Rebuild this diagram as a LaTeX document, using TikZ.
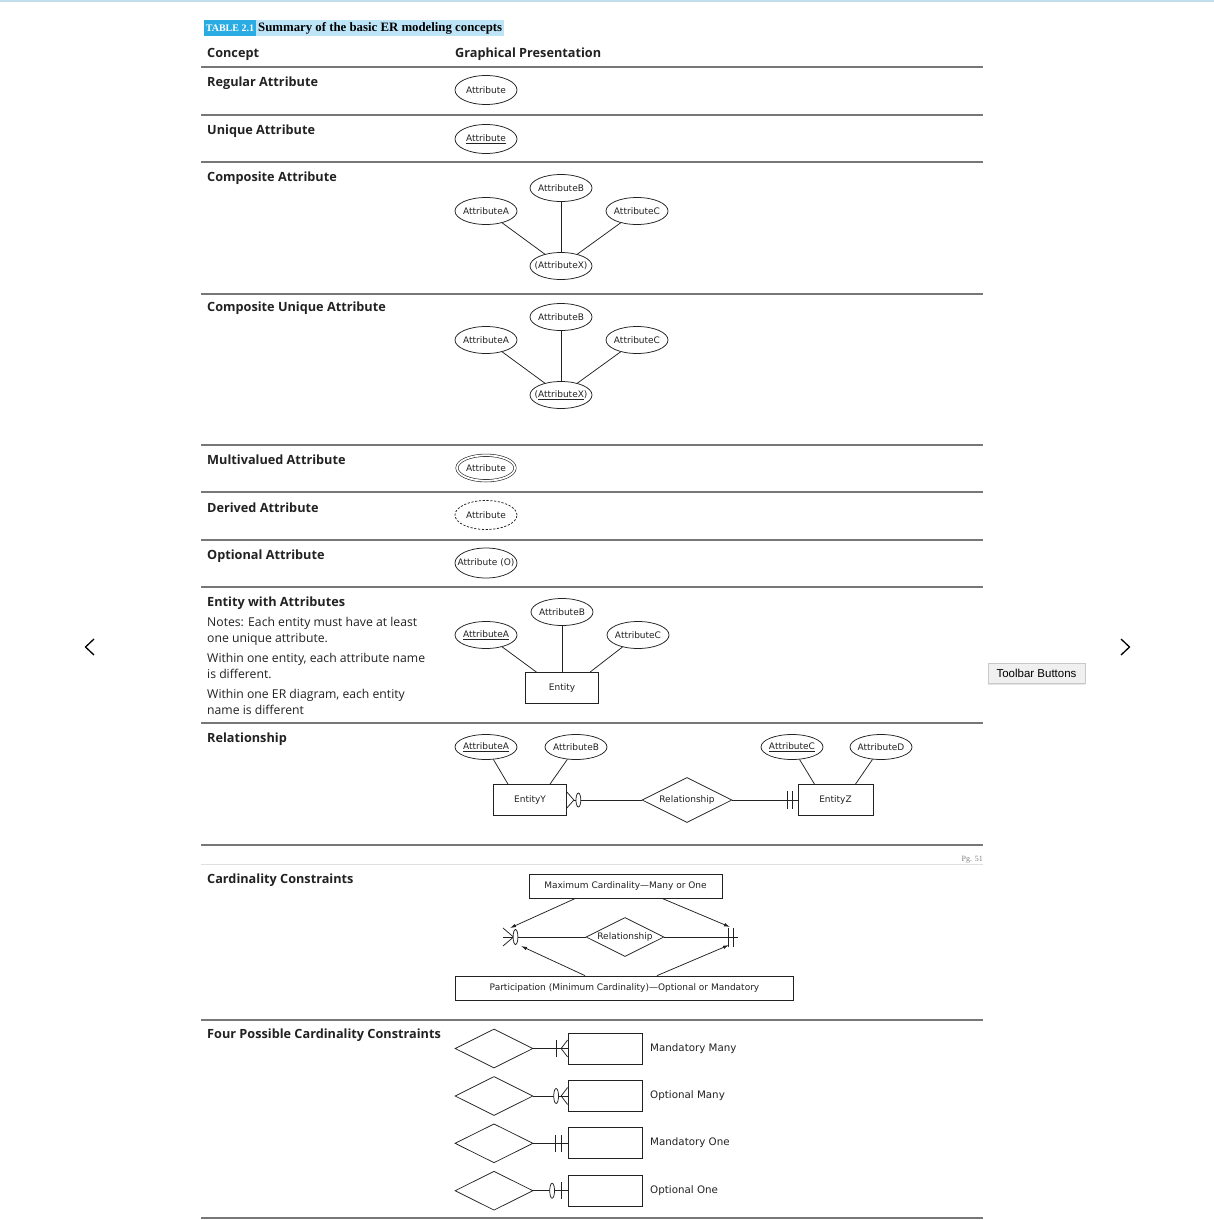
\documentclass[tikz,border=0pt]{standalone}
\usepackage{fontspec}
\setmainfont{Open Sans}
\newfontfamily\dia[Ligatures=TeX]{DejaVu Sans}
\newfontfamily\ttl[Ligatures=TeX]{Liberation Serif}
\newfontfamily\ui{Liberation Sans}
\usetikzlibrary{shapes.geometric,arrows.meta,calc,shadows}
\definecolor{ruleg}{HTML}{777777}
\definecolor{tblue}{HTML}{2AABE2}
\definecolor{tlight}{HTML}{BEE5F7}
\definecolor{topblue}{HTML}{BFDDEB}
\definecolor{tipbg}{HTML}{F0F0F0}
\definecolor{tipborder}{HTML}{C8C8C8}
\definecolor{ink}{HTML}{222222}
\newcommand\mz[1]{\makebox[0pt]{#1}}
\begin{document}
\begin{tikzpicture}[x=1pt,y=-1pt,
  rulel/.style={draw=ruleg, line width=1.3pt},
  concept/.style={anchor=mid west, inner sep=0pt, yshift=-1.8pt, text=ink, font=\fontsize{12.7}{15}\selectfont\bfseries},
  note/.style={anchor=mid west, inner sep=0pt, yshift=-1.5pt, text=ink, font=\fontsize{12.2}{14}\selectfont},
  lbl/.style={font=\dia\fontsize{9}{11}\selectfont, text=ink},
  attr/.style={ellipse, draw=ink, line width=0.75pt, minimum width=62pt, minimum height=27pt, inner sep=0pt, lbl},
  ent/.style={rectangle, draw=ink, line width=0.75pt, minimum width=73pt, minimum height=31pt, inner sep=0pt, lbl},
  rel/.style={diamond, draw=ink, line width=0.75pt, minimum width=90pt, minimum height=45pt, inner sep=0pt, lbl},
  conn/.style={draw=ink, line width=0.75pt},
  arr/.style={conn, -{Latex[length=6pt,width=3.5pt]}},
  opt/.style={conn, fill=white}
]
\fill[white] (0,0) rectangle (1214,1220);
\useasboundingbox (0,0) rectangle (1214,1220);
\draw[topblue, line width=2pt] (0,1) -- (1214,1);

% title
\node[fill=tblue, text=white, inner sep=0pt, anchor=west, minimum height=16pt, text depth=0pt,
  font=\ttl\bfseries\fontsize{10}{12}\selectfont] (tnum) at (204,28.5) {\,TABLE 2.1\,};
\node[fill=tlight, inner sep=0pt, anchor=west, minimum height=16pt,
  font=\ttl\bfseries\fontsize{12.8}{14}\selectfont] (ttext) at (tnum.east) {\,Summary of the basic ER modeling concepts\,};

% header
\node[concept] (hc) at (207,53.5) {Concept};
\node[concept] (hg) at (455,53.5) {Graphical Presentation};

% rules
\foreach \yy in {67,115,162,294,445,492,540,587,723,845,1020,1218}
  \draw[rulel] (201,\yy) -- (983,\yy);
\draw[gray!25, line width=0.8pt] (201,864) -- (983,864);
\node[anchor=mid east, inner sep=0pt, text=gray, font=\ttl\fontsize{8}{9}\selectfont] (pg) at (983,859) {Pg. 51};

% concept labels
\node[concept] (l1) at (207,82.5) {Regular Attribute};
\node[concept] (l2) at (207,130.5) {Unique Attribute};
\node[concept] (l3) at (207,177.5) {Composite Attribute};
\node[concept] (l4) at (207,307.5) {Composite Unique Attribute};
\node[concept] (l5) at (207,460.5) {Multivalued Attribute};
\node[concept] (l6) at (207,508.5) {Derived Attribute};
\node[concept] (l7) at (207,555.5) {Optional Attribute};
\node[concept] (l8) at (207,602.5) {Entity with Attributes};
\node[note] (n1) at (207,622.5) {Notes: Each entity must have at least};
\node[note] (n2) at (207,638.5) {one unique attribute.};
\node[note] (n3) at (207,658.5) {Within one entity, each attribute name};
\node[note] (n4) at (207,674.5) {is different.};
\node[note] (n5) at (207,694.5) {Within one ER diagram, each entity};
\node[note] (n6) at (207,710.5) {name is different};
\node[concept] (l9) at (207,738.5) {Relationship};
\node[concept] (l10) at (207,879.5) {Cardinality Constraints};
\node[concept] (l11) at (207,1034.5) {Four Possible Cardinality Constraints};

% single attributes
\node[attr, minimum height=29pt] (ra) at (486,90) {\mz{Attribute}};
\node[attr, minimum height=29pt] (ua) at (486,139) {\mz{\underline{Attribute}}};
\node[attr, minimum width=58pt, minimum height=25.5pt, line width=0.6pt, double=white, double distance=1.8pt] (mv) at (486,468) {\mz{Attribute}};
\node[attr, minimum height=29pt, dash pattern=on 2.2pt off 1.6pt] (dv) at (486,515) {\mz{Attribute}};
\node[attr, minimum height=30pt] (ov) at (486,563) {\mz{Attribute (O)}};

% composite attribute
\node[attr] (cb) at (561,188) {\mz{AttributeB}};
\node[attr] (ca) at (486,211) {\mz{AttributeA}};
\node[attr] (cc) at (637,211) {\mz{AttributeC}};
\node[attr] (cx) at (561,266) {\mz{(AttributeX)}};
\draw[conn] (ca) -- (cx);
\draw[conn] (cb) -- (cx);
\draw[conn] (cc) -- (cx);

% composite unique attribute
\node[attr] (ub) at (561,317) {\mz{AttributeB}};
\node[attr] (uA) at (486,340) {\mz{AttributeA}};
\node[attr] (uc) at (637,340) {\mz{AttributeC}};
\node[attr] (ux) at (561,395) {\mz{(\underline{AttributeX})}};
\draw[conn] (uA) -- (ux);
\draw[conn] (ub) -- (ux);
\draw[conn] (uc) -- (ux);

% entity with attributes
\node[attr] (eb) at (562,612) {\mz{AttributeB}};
\node[attr] (ea) at (486,635) {\mz{\underline{AttributeA}}};
\node[attr] (ec) at (638,635) {\mz{AttributeC}};
\node[ent] (en) at (562,688) {\mz{Entity}};
\draw[conn] (ea) -- ($(en.north)+(-25.5,0)$);
\draw[conn] (eb) -- (en);
\draw[conn] (ec) -- ($(en.north)+(28,0)$);

% relationship
\node[attr, minimum height=25pt] (rA) at (486,747) {\mz{\underline{AttributeA}}};
\node[attr, minimum height=25pt] (rB) at (576,747) {\mz{AttributeB}};
\node[attr, minimum height=25pt] (rC) at (792,747) {\mz{\underline{AttributeC}}};
\node[attr, minimum height=25pt] (rD) at (881,747) {\mz{AttributeD}};
\node[ent] (EY) at (530,800) {\mz{EntityY}};
\node[rel] (R) at (687,800) {\mz{Relationship}};
\node[ent, minimum width=75pt] (EZ) at (835.5,800) {\mz{EntityZ}};
\draw[conn] (rA) -- ($(EY.north)+(-22,0)$);
\draw[conn] (rB) -- ($(EY.north)+(20,0)$);
\draw[conn] (rC) -- ($(EZ.north)+(-21,0)$);
\draw[conn] (rD) -- ($(EZ.north)+(20,0)$);
\draw[conn] ($(EY.east)+(0,-8)$) -- ($(EY.east)+(7,0)$) -- ($(EY.east)+(0,8)$);
\draw[conn] ($(EY.east)+(7,0)$) -- (R.west);
\draw[opt] ($(EY.east)+(11.5,0)$) ellipse [x radius=2.4pt, y radius=7pt];
\draw[conn] (R.east) -- (EZ.west);
\draw[conn] ($(EZ.west)+(-10,-9)$) -- ($(EZ.west)+(-10,9)$);
\draw[conn] ($(EZ.west)+(-5,-9)$) -- ($(EZ.west)+(-5,9)$);

% cardinality constraints
\node[rectangle, draw=ink, line width=0.75pt, minimum width=193pt, minimum height=24pt, inner sep=0pt, lbl] (MX) at (625.5,886) {\mz{Maximum Cardinality—Many or One}};
\node[rel, minimum width=78pt, minimum height=39pt] (CR) at (625,937) {\mz{Relationship}};
\node[rectangle, draw=ink, line width=0.75pt, minimum width=338pt, minimum height=24pt, inner sep=0pt, lbl] (PB) at (624.5,988) {\mz{Participation (Minimum Cardinality)—Optional or Mandatory}};
\coordinate (cL) at (503,937);
\coordinate (cR) at (737.5,937);
\draw[conn] (cL) -- (CR.west);
\draw[conn] (CR.east) -- (cR);
\draw[conn] ($(cL)+(0,-9)$) -- ($(cL)+(10.5,0)$) -- ($(cL)+(0,9)$);
\draw[opt] ($(cL)+(12.5,0)$) ellipse [x radius=2.4pt, y radius=7.5pt];
\draw[conn] ($(cR)+(-9,-9.5)$) -- ($(cR)+(-9,9.5)$);
\draw[conn] ($(cR)+(-4,-9.5)$) -- ($(cR)+(-4,9.5)$);
\coordinate (a1) at (510,928);
\coordinate (a2) at (730,927);
\coordinate (a3) at (521,946);
\coordinate (a4) at (729,945);
\draw[arr] ($(MX.south)+(-50,0)$) -- (a1);
\draw[arr] ($(MX.south)+(36.5,0)$) -- (a2);
\draw[arr] ($(PB.north)+(-39.5,0)$) -- (a3);
\draw[arr] ($(PB.north)+(32.5,0)$) -- (a4);

% four possible cardinality constraints
\foreach \k/\yy/\txt in {1/1048.5/Mandatory Many, 2/1096/Optional Many, 3/1143.3/Mandatory One, 4/1190.7/Optional One}{
  \node[rel, minimum width=78pt, minimum height=39pt] (D\k) at (494,\yy) {};
  \node[ent, minimum width=74pt] (E\k) at (605,\yy) {};
  \node[anchor=mid west, inner sep=0pt, font=\dia\fontsize{10.3}{12}\selectfont, text=ink] (T\k) at (650,\yy) {\txt};
  \draw[conn] (D\k.east) -- (E\k.west);
}
% mandatory many
\draw[conn] ($(E1.west)+(0,-8.5)$) -- ($(E1.west)+(-6.5,0)$) -- ($(E1.west)+(0,8.5)$);
\draw[conn] ($(E1.west)+(-11.5,-8.5)$) -- ($(E1.west)+(-11.5,8.5)$);
% optional many
\draw[conn] ($(E2.west)+(0,-8.5)$) -- ($(E2.west)+(-6.5,0)$) -- ($(E2.west)+(0,8.5)$);
\draw[opt] ($(E2.west)+(-11.5,0)$) ellipse [x radius=2.4pt, y radius=7.5pt];
% mandatory one
\draw[conn] ($(E3.west)+(-12,-8.5)$) -- ($(E3.west)+(-12,8.5)$);
\draw[conn] ($(E3.west)+(-6.5,-8.5)$) -- ($(E3.west)+(-6.5,8.5)$);
% optional one
\draw[opt] ($(E4.west)+(-15.5,0)$) ellipse [x radius=2.4pt, y radius=7.5pt];
\draw[conn] ($(E4.west)+(-6.5,-8.5)$) -- ($(E4.west)+(-6.5,8.5)$);

% viewer chrome
\draw[line width=1.3pt, line join=miter] (94,639) -- (85.5,647) -- (94,655);
\draw[line width=1.3pt, line join=miter] (1121,639) -- (1129.5,647) -- (1121,655);
\node[fill=tipbg, draw=tipborder, line width=0.5pt, drop shadow={opacity=0.2, shadow xshift=0pt, shadow yshift=-2pt},
  font=\ui\fontsize{11.5}{13}\selectfont, minimum width=97pt, minimum height=20pt, inner sep=0pt] (tip) at (1036.5,673) {Toolbar Buttons};
\end{tikzpicture}
\end{document}
